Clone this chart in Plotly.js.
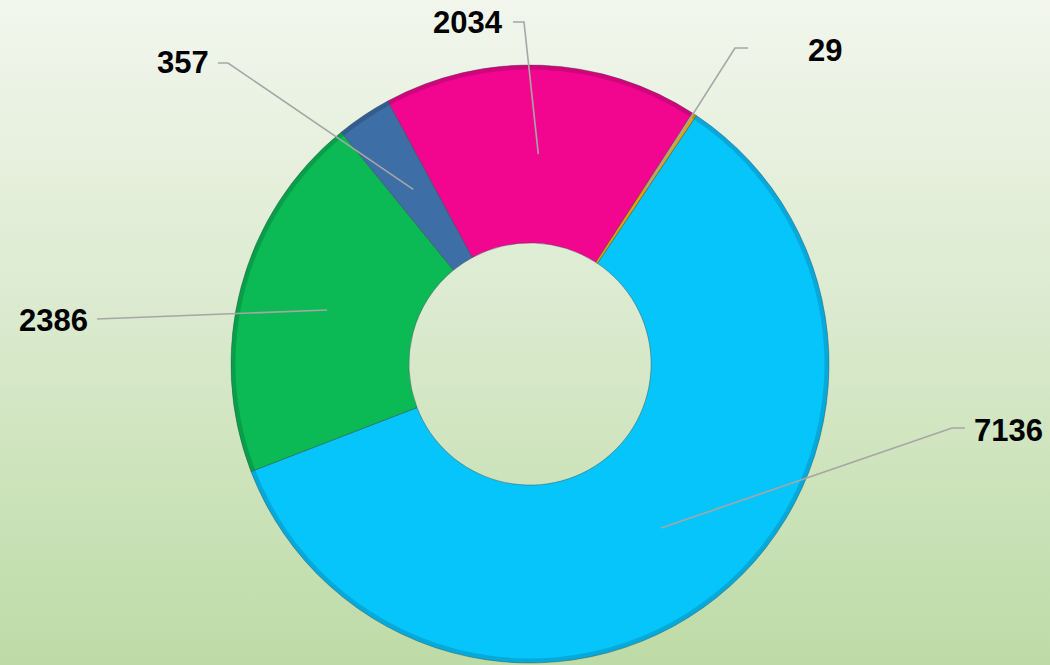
<!DOCTYPE html>
<html>
<head>
<meta charset="utf-8">
<script src="https://cdn.plot.ly/plotly-3.0.1.min.js"></script>
<style>
  html, body { margin: 0; padding: 0; }
  body { width: 1050px; height: 665px; overflow: hidden;
         background: linear-gradient(to bottom, #f2f6ed 0%, #dcebd0 45%, #bddba6 100%); }
  #chart { width: 1050px; height: 665px; }
</style>
</head>
<body>
<div id="chart"></div>
<script>
// ---- data ----
const categories = ['Category 1', 'Category 2', 'Category 3', 'Category 4', 'Category 5'];
const values = [7136, 2386, 357, 2034, 29];
const valueLabels = ['7136', '2386', '357', '2034', '29'];

// ---- style / layout constants ----
const colors = ['#05c5fb', '#0bb955', '#3d6fa6', '#f2068f', '#e6a400'];
const rimColors = ['#0a7fa8', '#087a3a', '#24466e', '#9c0560', '#8a6a00'];
const W = 1050, H = 665;
const CX = 530, CY = 364, R = 299;
const HOLE = 0.405;
const ROTATION = 33.8;
// label text centre, elbow point, and line end near text (pixels)
const labelPos = [
  {tx: 1008, ty: 430, ex: 952, ey: 428, lx: 965, ly: 428},
  {tx: 53,   ty: 320, ex: 97,  ey: 319, lx: 97,  ly: 319},
  {tx: 183,  ty: 63,  ex: 228, ey: 63,  lx: 218, ly: 63},
  {tx: 468,  ty: 23,  ex: 524, ey: 22,  lx: 513, ly: 22},
  {tx: 825,  ty: 50,  ex: 735, ey: 48,  lx: 748, ly: 48}
];

const px = x => x / W;
const py = y => 1 - y / H;
const domain = { x: [px(CX - R), px(CX + R)], y: [py(CY + R), py(CY - R)] };

const traces = [
  {
    type: 'pie', labels: categories, values: values, sort: false,
    direction: 'clockwise', rotation: ROTATION, hole: HOLE,
    domain: domain, textinfo: 'none', hoverinfo: 'label+value',
    marker: { colors: colors, line: { color: 'rgba(40,60,70,0.4)', width: 1 } },
    showlegend: false
  },
  {
    type: 'pie', labels: categories, values: values, sort: false,
    direction: 'clockwise', rotation: ROTATION, hole: 0.985,
    domain: domain, textinfo: 'none', hoverinfo: 'skip',
    opacity: 0.4,
    marker: { colors: rimColors, line: { width: 0 } },
    showlegend: false
  }
];

// leader lines computed from the data (slice mid-angle, mid ring radius)
const total = values.reduce((a, b) => a + b, 0);
let acc = 0;
const shapes = [];
const annotations = [];
values.forEach((v, i) => {
  const mid = (ROTATION + (acc + v / 2) / total * 360) * Math.PI / 180;
  acc += v;
  const rr = R * (1 + HOLE) / 2;
  const ax = CX + rr * Math.sin(mid);
  const ay = CY - rr * Math.cos(mid);
  const L = labelPos[i];
  shapes.push({
    type: 'path', xref: 'paper', yref: 'paper',
    path: `M ${px(ax)} ${py(ay)} L ${px(L.ex)} ${py(L.ey)} L ${px(L.lx)} ${py(L.ly)}`,
    line: { color: '#a6a6a6', width: 1.6 }
  });
  annotations.push({
    xref: 'paper', yref: 'paper', x: px(L.tx), y: py(L.ty),
    xanchor: 'center', yanchor: 'middle', showarrow: false,
    text: valueLabels[i],
    font: { family: 'Liberation Sans, Arial, sans-serif', size: 31, color: '#000000', weight: 'bold' }
  });
});

const layout = {
  width: W, height: H,
  margin: { l: 0, r: 0, t: 0, b: 0 },
  paper_bgcolor: 'rgba(0,0,0,0)',
  plot_bgcolor: 'rgba(0,0,0,0)',
  showlegend: false,
  shapes: shapes,
  annotations: annotations
};

Plotly.newPlot('chart', traces, layout, { displayModeBar: false, staticPlot: true });
</script>
</body>
</html>
